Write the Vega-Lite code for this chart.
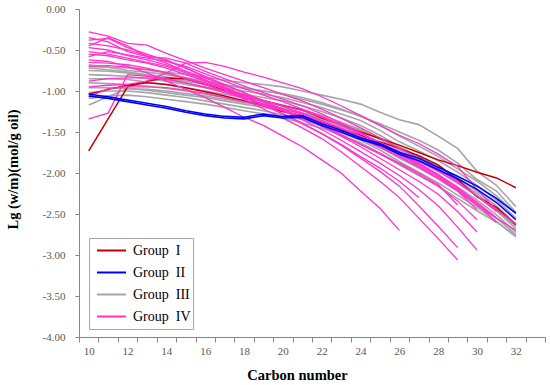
{
"$schema":"https://vega.github.io/schema/vega-lite/v6.json",
"width":466,"height":328,
"autosize":{"type":"none"},
"padding":{"left":79,"top":9,"right":5,"bottom":48},
"background":"white",
"config":{"view":{"stroke":null},"font":"Liberation Serif, Times New Roman, serif"},
"data":{"values":[
{"g":"Group I","s":"R1","c":10,"v":-1.73},{"g":"Group I","s":"R1","c":11,"v":-1.34},{"g":"Group I","s":"R1","c":12,"v":-0.95},{"g":"Group I","s":"R1","c":13,"v":-0.88},{"g":"Group I","s":"R1","c":14,"v":-0.84},{"g":"Group I","s":"R1","c":15,"v":-0.85},{"g":"Group I","s":"R1","c":16,"v":-0.92},{"g":"Group I","s":"R1","c":17,"v":-0.99},{"g":"Group I","s":"R1","c":18,"v":-1.06},{"g":"Group I","s":"R1","c":19,"v":-1.12},{"g":"Group I","s":"R1","c":20,"v":-1.18},{"g":"Group I","s":"R1","c":21,"v":-1.23},{"g":"Group I","s":"R1","c":22,"v":-1.33},{"g":"Group I","s":"R1","c":23,"v":-1.41},{"g":"Group I","s":"R1","c":24,"v":-1.50},{"g":"Group I","s":"R1","c":25,"v":-1.58},{"g":"Group I","s":"R1","c":26,"v":-1.66},{"g":"Group I","s":"R1","c":27,"v":-1.75},{"g":"Group I","s":"R1","c":28,"v":-1.84},{"g":"Group I","s":"R1","c":29,"v":-1.91},{"g":"Group I","s":"R1","c":30,"v":-1.99},{"g":"Group I","s":"R1","c":31,"v":-2.06},{"g":"Group I","s":"R1","c":32,"v":-2.18},
{"g":"Group I","s":"R2","c":10,"v":-1.04},{"g":"Group I","s":"R2","c":11,"v":-0.98},{"g":"Group I","s":"R2","c":12,"v":-0.93},{"g":"Group I","s":"R2","c":13,"v":-0.90},{"g":"Group I","s":"R2","c":14,"v":-0.92},{"g":"Group I","s":"R2","c":15,"v":-0.96},{"g":"Group I","s":"R2","c":16,"v":-1.01},{"g":"Group I","s":"R2","c":17,"v":-1.06},{"g":"Group I","s":"R2","c":18,"v":-1.12},{"g":"Group I","s":"R2","c":19,"v":-1.18},{"g":"Group I","s":"R2","c":20,"v":-1.25},{"g":"Group I","s":"R2","c":21,"v":-1.30},{"g":"Group I","s":"R2","c":22,"v":-1.38},{"g":"Group I","s":"R2","c":23,"v":-1.46},{"g":"Group I","s":"R2","c":24,"v":-1.54},{"g":"Group I","s":"R2","c":25,"v":-1.62},{"g":"Group I","s":"R2","c":26,"v":-1.70},{"g":"Group I","s":"R2","c":27,"v":-1.79},{"g":"Group I","s":"R2","c":28,"v":-1.90},{"g":"Group I","s":"R2","c":29,"v":-2.08},{"g":"Group I","s":"R2","c":30,"v":-2.29},{"g":"Group I","s":"R2","c":31,"v":-2.42},{"g":"Group I","s":"R2","c":32,"v":-2.63},
{"g":"Group II","s":"B1","c":10,"v":-1.04},{"g":"Group II","s":"B1","c":11,"v":-1.07},{"g":"Group II","s":"B1","c":12,"v":-1.11},{"g":"Group II","s":"B1","c":13,"v":-1.15},{"g":"Group II","s":"B1","c":14,"v":-1.19},{"g":"Group II","s":"B1","c":15,"v":-1.24},{"g":"Group II","s":"B1","c":16,"v":-1.28},{"g":"Group II","s":"B1","c":17,"v":-1.31},{"g":"Group II","s":"B1","c":18,"v":-1.32},{"g":"Group II","s":"B1","c":19,"v":-1.28},{"g":"Group II","s":"B1","c":20,"v":-1.31},{"g":"Group II","s":"B1","c":21,"v":-1.30},{"g":"Group II","s":"B1","c":22,"v":-1.40},{"g":"Group II","s":"B1","c":23,"v":-1.48},{"g":"Group II","s":"B1","c":24,"v":-1.57},{"g":"Group II","s":"B1","c":25,"v":-1.64},{"g":"Group II","s":"B1","c":26,"v":-1.75},{"g":"Group II","s":"B1","c":27,"v":-1.82},{"g":"Group II","s":"B1","c":28,"v":-1.93},{"g":"Group II","s":"B1","c":29,"v":-2.04},{"g":"Group II","s":"B1","c":30,"v":-2.16},{"g":"Group II","s":"B1","c":31,"v":-2.31},{"g":"Group II","s":"B1","c":32,"v":-2.49},
{"g":"Group II","s":"B2","c":10,"v":-1.06},{"g":"Group II","s":"B2","c":11,"v":-1.09},{"g":"Group II","s":"B2","c":12,"v":-1.13},{"g":"Group II","s":"B2","c":13,"v":-1.17},{"g":"Group II","s":"B2","c":14,"v":-1.21},{"g":"Group II","s":"B2","c":15,"v":-1.26},{"g":"Group II","s":"B2","c":16,"v":-1.30},{"g":"Group II","s":"B2","c":17,"v":-1.33},{"g":"Group II","s":"B2","c":18,"v":-1.34},{"g":"Group II","s":"B2","c":19,"v":-1.30},{"g":"Group II","s":"B2","c":20,"v":-1.33},{"g":"Group II","s":"B2","c":21,"v":-1.32},{"g":"Group II","s":"B2","c":22,"v":-1.42},{"g":"Group II","s":"B2","c":23,"v":-1.50},{"g":"Group II","s":"B2","c":24,"v":-1.59},{"g":"Group II","s":"B2","c":25,"v":-1.66},{"g":"Group II","s":"B2","c":26,"v":-1.77},{"g":"Group II","s":"B2","c":27,"v":-1.85},{"g":"Group II","s":"B2","c":28,"v":-1.96},{"g":"Group II","s":"B2","c":29,"v":-2.07},{"g":"Group II","s":"B2","c":30,"v":-2.20},{"g":"Group II","s":"B2","c":31,"v":-2.36},{"g":"Group II","s":"B2","c":32,"v":-2.57},
{"g":"Group III","s":"G1","c":10,"v":-0.70},{"g":"Group III","s":"G1","c":11,"v":-0.71},{"g":"Group III","s":"G1","c":12,"v":-0.72},{"g":"Group III","s":"G1","c":13,"v":-0.74},{"g":"Group III","s":"G1","c":14,"v":-0.77},{"g":"Group III","s":"G1","c":15,"v":-0.80},{"g":"Group III","s":"G1","c":16,"v":-0.83},{"g":"Group III","s":"G1","c":17,"v":-0.87},{"g":"Group III","s":"G1","c":18,"v":-0.90},{"g":"Group III","s":"G1","c":19,"v":-0.92},{"g":"Group III","s":"G1","c":20,"v":-0.95},{"g":"Group III","s":"G1","c":21,"v":-1.00},{"g":"Group III","s":"G1","c":22,"v":-1.05},{"g":"Group III","s":"G1","c":23,"v":-1.10},{"g":"Group III","s":"G1","c":24,"v":-1.16},{"g":"Group III","s":"G1","c":25,"v":-1.26},{"g":"Group III","s":"G1","c":26,"v":-1.35},{"g":"Group III","s":"G1","c":27,"v":-1.41},{"g":"Group III","s":"G1","c":28,"v":-1.55},{"g":"Group III","s":"G1","c":29,"v":-1.70},{"g":"Group III","s":"G1","c":30,"v":-1.98},{"g":"Group III","s":"G1","c":31,"v":-2.15},{"g":"Group III","s":"G1","c":32,"v":-2.41},
{"g":"Group III","s":"G2","c":10,"v":-0.72},{"g":"Group III","s":"G2","c":11,"v":-0.74},{"g":"Group III","s":"G2","c":12,"v":-0.77},{"g":"Group III","s":"G2","c":13,"v":-0.80},{"g":"Group III","s":"G2","c":14,"v":-0.83},{"g":"Group III","s":"G2","c":15,"v":-0.87},{"g":"Group III","s":"G2","c":16,"v":-0.90},{"g":"Group III","s":"G2","c":17,"v":-0.93},{"g":"Group III","s":"G2","c":18,"v":-0.97},{"g":"Group III","s":"G2","c":19,"v":-1.00},{"g":"Group III","s":"G2","c":20,"v":-1.03},{"g":"Group III","s":"G2","c":21,"v":-1.08},{"g":"Group III","s":"G2","c":22,"v":-1.14},{"g":"Group III","s":"G2","c":23,"v":-1.22},{"g":"Group III","s":"G2","c":24,"v":-1.31},{"g":"Group III","s":"G2","c":25,"v":-1.40},{"g":"Group III","s":"G2","c":26,"v":-1.50},{"g":"Group III","s":"G2","c":27,"v":-1.60},{"g":"Group III","s":"G2","c":28,"v":-1.72},{"g":"Group III","s":"G2","c":29,"v":-1.88},{"g":"Group III","s":"G2","c":30,"v":-2.08},{"g":"Group III","s":"G2","c":31,"v":-2.22},{"g":"Group III","s":"G2","c":32,"v":-2.48},
{"g":"Group III","s":"G3","c":10,"v":-0.75},{"g":"Group III","s":"G3","c":11,"v":-0.76},{"g":"Group III","s":"G3","c":12,"v":-0.78},{"g":"Group III","s":"G3","c":13,"v":-0.81},{"g":"Group III","s":"G3","c":14,"v":-0.84},{"g":"Group III","s":"G3","c":15,"v":-0.88},{"g":"Group III","s":"G3","c":16,"v":-0.92},{"g":"Group III","s":"G3","c":17,"v":-0.96},{"g":"Group III","s":"G3","c":18,"v":-1.00},{"g":"Group III","s":"G3","c":19,"v":-1.04},{"g":"Group III","s":"G3","c":20,"v":-1.08},{"g":"Group III","s":"G3","c":21,"v":-1.14},{"g":"Group III","s":"G3","c":22,"v":-1.20},{"g":"Group III","s":"G3","c":23,"v":-1.28},{"g":"Group III","s":"G3","c":24,"v":-1.36},{"g":"Group III","s":"G3","c":25,"v":-1.48},{"g":"Group III","s":"G3","c":26,"v":-1.62},{"g":"Group III","s":"G3","c":27,"v":-1.73},{"g":"Group III","s":"G3","c":28,"v":-1.85},{"g":"Group III","s":"G3","c":29,"v":-1.99},{"g":"Group III","s":"G3","c":30,"v":-2.15},{"g":"Group III","s":"G3","c":31,"v":-2.33},{"g":"Group III","s":"G3","c":32,"v":-2.55},
{"g":"Group III","s":"G4","c":10,"v":-0.80},{"g":"Group III","s":"G4","c":11,"v":-0.81},{"g":"Group III","s":"G4","c":12,"v":-0.82},{"g":"Group III","s":"G4","c":13,"v":-0.85},{"g":"Group III","s":"G4","c":14,"v":-0.88},{"g":"Group III","s":"G4","c":15,"v":-0.92},{"g":"Group III","s":"G4","c":16,"v":-0.96},{"g":"Group III","s":"G4","c":17,"v":-1.00},{"g":"Group III","s":"G4","c":18,"v":-1.04},{"g":"Group III","s":"G4","c":19,"v":-1.08},{"g":"Group III","s":"G4","c":20,"v":-1.12},{"g":"Group III","s":"G4","c":21,"v":-1.18},{"g":"Group III","s":"G4","c":22,"v":-1.25},{"g":"Group III","s":"G4","c":23,"v":-1.33},{"g":"Group III","s":"G4","c":24,"v":-1.42},{"g":"Group III","s":"G4","c":25,"v":-1.54},{"g":"Group III","s":"G4","c":26,"v":-1.68},{"g":"Group III","s":"G4","c":27,"v":-1.80},{"g":"Group III","s":"G4","c":28,"v":-1.92},{"g":"Group III","s":"G4","c":29,"v":-2.06},{"g":"Group III","s":"G4","c":30,"v":-2.22},{"g":"Group III","s":"G4","c":31,"v":-2.40},{"g":"Group III","s":"G4","c":32,"v":-2.62},
{"g":"Group III","s":"G5","c":10,"v":-0.85},{"g":"Group III","s":"G5","c":11,"v":-0.85},{"g":"Group III","s":"G5","c":12,"v":-0.86},{"g":"Group III","s":"G5","c":13,"v":-0.89},{"g":"Group III","s":"G5","c":14,"v":-0.92},{"g":"Group III","s":"G5","c":15,"v":-0.96},{"g":"Group III","s":"G5","c":16,"v":-1.00},{"g":"Group III","s":"G5","c":17,"v":-1.04},{"g":"Group III","s":"G5","c":18,"v":-1.08},{"g":"Group III","s":"G5","c":19,"v":-1.12},{"g":"Group III","s":"G5","c":20,"v":-1.17},{"g":"Group III","s":"G5","c":21,"v":-1.23},{"g":"Group III","s":"G5","c":22,"v":-1.30},{"g":"Group III","s":"G5","c":23,"v":-1.38},{"g":"Group III","s":"G5","c":24,"v":-1.47},{"g":"Group III","s":"G5","c":25,"v":-1.59},{"g":"Group III","s":"G5","c":26,"v":-1.72},{"g":"Group III","s":"G5","c":27,"v":-1.84},{"g":"Group III","s":"G5","c":28,"v":-1.97},{"g":"Group III","s":"G5","c":29,"v":-2.12},{"g":"Group III","s":"G5","c":30,"v":-2.28},{"g":"Group III","s":"G5","c":31,"v":-2.46},{"g":"Group III","s":"G5","c":32,"v":-2.68},
{"g":"Group III","s":"G6","c":10,"v":-0.90},{"g":"Group III","s":"G6","c":11,"v":-0.91},{"g":"Group III","s":"G6","c":12,"v":-0.92},{"g":"Group III","s":"G6","c":13,"v":-0.94},{"g":"Group III","s":"G6","c":14,"v":-0.97},{"g":"Group III","s":"G6","c":15,"v":-1.00},{"g":"Group III","s":"G6","c":16,"v":-1.04},{"g":"Group III","s":"G6","c":17,"v":-1.08},{"g":"Group III","s":"G6","c":18,"v":-1.12},{"g":"Group III","s":"G6","c":19,"v":-1.16},{"g":"Group III","s":"G6","c":20,"v":-1.21},{"g":"Group III","s":"G6","c":21,"v":-1.27},{"g":"Group III","s":"G6","c":22,"v":-1.34},{"g":"Group III","s":"G6","c":23,"v":-1.43},{"g":"Group III","s":"G6","c":24,"v":-1.52},{"g":"Group III","s":"G6","c":25,"v":-1.64},{"g":"Group III","s":"G6","c":26,"v":-1.77},{"g":"Group III","s":"G6","c":27,"v":-1.89},{"g":"Group III","s":"G6","c":28,"v":-2.02},{"g":"Group III","s":"G6","c":29,"v":-2.17},{"g":"Group III","s":"G6","c":30,"v":-2.33},{"g":"Group III","s":"G6","c":31,"v":-2.51},{"g":"Group III","s":"G6","c":32,"v":-2.72},
{"g":"Group III","s":"G7","c":10,"v":-0.96},{"g":"Group III","s":"G7","c":11,"v":-0.96},{"g":"Group III","s":"G7","c":12,"v":-0.97},{"g":"Group III","s":"G7","c":13,"v":-0.99},{"g":"Group III","s":"G7","c":14,"v":-1.02},{"g":"Group III","s":"G7","c":15,"v":-1.05},{"g":"Group III","s":"G7","c":16,"v":-1.08},{"g":"Group III","s":"G7","c":17,"v":-1.12},{"g":"Group III","s":"G7","c":18,"v":-1.16},{"g":"Group III","s":"G7","c":19,"v":-1.20},{"g":"Group III","s":"G7","c":20,"v":-1.25},{"g":"Group III","s":"G7","c":21,"v":-1.31},{"g":"Group III","s":"G7","c":22,"v":-1.38},{"g":"Group III","s":"G7","c":23,"v":-1.47},{"g":"Group III","s":"G7","c":24,"v":-1.56},{"g":"Group III","s":"G7","c":25,"v":-1.68},{"g":"Group III","s":"G7","c":26,"v":-1.82},{"g":"Group III","s":"G7","c":27,"v":-1.94},{"g":"Group III","s":"G7","c":28,"v":-2.07},{"g":"Group III","s":"G7","c":29,"v":-2.22},{"g":"Group III","s":"G7","c":30,"v":-2.38},{"g":"Group III","s":"G7","c":31,"v":-2.55},{"g":"Group III","s":"G7","c":32,"v":-2.75},
{"g":"Group III","s":"G8","c":10,"v":-1.02},{"g":"Group III","s":"G8","c":11,"v":-1.00},{"g":"Group III","s":"G8","c":12,"v":-1.00},{"g":"Group III","s":"G8","c":13,"v":-1.02},{"g":"Group III","s":"G8","c":14,"v":-1.05},{"g":"Group III","s":"G8","c":15,"v":-1.08},{"g":"Group III","s":"G8","c":16,"v":-1.12},{"g":"Group III","s":"G8","c":17,"v":-1.16},{"g":"Group III","s":"G8","c":18,"v":-1.20},{"g":"Group III","s":"G8","c":19,"v":-1.24},{"g":"Group III","s":"G8","c":20,"v":-1.29},{"g":"Group III","s":"G8","c":21,"v":-1.35},{"g":"Group III","s":"G8","c":22,"v":-1.42},{"g":"Group III","s":"G8","c":23,"v":-1.51},{"g":"Group III","s":"G8","c":24,"v":-1.60},{"g":"Group III","s":"G8","c":25,"v":-1.72},{"g":"Group III","s":"G8","c":26,"v":-1.86},{"g":"Group III","s":"G8","c":27,"v":-1.99},{"g":"Group III","s":"G8","c":28,"v":-2.12},{"g":"Group III","s":"G8","c":29,"v":-2.27},{"g":"Group III","s":"G8","c":30,"v":-2.42},{"g":"Group III","s":"G8","c":31,"v":-2.59},{"g":"Group III","s":"G8","c":32,"v":-2.78},
{"g":"Group III","s":"G9","c":10,"v":-1.09},{"g":"Group III","s":"G9","c":11,"v":-1.06},{"g":"Group III","s":"G9","c":12,"v":-1.05},{"g":"Group III","s":"G9","c":13,"v":-1.07},{"g":"Group III","s":"G9","c":14,"v":-1.10},{"g":"Group III","s":"G9","c":15,"v":-1.13},{"g":"Group III","s":"G9","c":16,"v":-1.16},{"g":"Group III","s":"G9","c":17,"v":-1.20},{"g":"Group III","s":"G9","c":18,"v":-1.24},{"g":"Group III","s":"G9","c":19,"v":-1.28},{"g":"Group III","s":"G9","c":20,"v":-1.33},{"g":"Group III","s":"G9","c":21,"v":-1.39},{"g":"Group III","s":"G9","c":22,"v":-1.45},{"g":"Group III","s":"G9","c":23,"v":-1.54},{"g":"Group III","s":"G9","c":24,"v":-1.63},{"g":"Group III","s":"G9","c":25,"v":-1.76},{"g":"Group III","s":"G9","c":26,"v":-1.90},{"g":"Group III","s":"G9","c":27,"v":-2.03},{"g":"Group III","s":"G9","c":28,"v":-2.16},{"g":"Group III","s":"G9","c":29,"v":-2.31},{"g":"Group III","s":"G9","c":30,"v":-2.46},{"g":"Group III","s":"G9","c":31,"v":-2.60},{"g":"Group III","s":"G9","c":32,"v":-2.76},
{"g":"Group III","s":"G10","c":10,"v":-1.17},{"g":"Group III","s":"G10","c":11,"v":-1.07},{"g":"Group III","s":"G10","c":12,"v":-0.97},{"g":"Group III","s":"G10","c":13,"v":-0.98},{"g":"Group III","s":"G10","c":14,"v":-1.00},{"g":"Group III","s":"G10","c":15,"v":-1.03},{"g":"Group III","s":"G10","c":16,"v":-1.06},{"g":"Group III","s":"G10","c":17,"v":-1.10},{"g":"Group III","s":"G10","c":18,"v":-1.14},{"g":"Group III","s":"G10","c":19,"v":-1.18},{"g":"Group III","s":"G10","c":20,"v":-1.22},{"g":"Group III","s":"G10","c":21,"v":-1.27},{"g":"Group III","s":"G10","c":22,"v":-1.32},{"g":"Group III","s":"G10","c":23,"v":-1.40},{"g":"Group III","s":"G10","c":24,"v":-1.48},{"g":"Group III","s":"G10","c":25,"v":-1.58},{"g":"Group III","s":"G10","c":26,"v":-1.70},{"g":"Group III","s":"G10","c":27,"v":-1.82},{"g":"Group III","s":"G10","c":28,"v":-1.95},{"g":"Group III","s":"G10","c":29,"v":-2.09},{"g":"Group III","s":"G10","c":30,"v":-2.25},{"g":"Group III","s":"G10","c":31,"v":-2.44},{"g":"Group III","s":"G10","c":32,"v":-2.65},
{"g":"Group III","s":"G11","c":10,"v":-0.68},{"g":"Group III","s":"G11","c":11,"v":-0.71},{"g":"Group III","s":"G11","c":12,"v":-0.75},{"g":"Group III","s":"G11","c":13,"v":-0.77},{"g":"Group III","s":"G11","c":14,"v":-0.80},{"g":"Group III","s":"G11","c":15,"v":-0.84},{"g":"Group III","s":"G11","c":16,"v":-0.88},{"g":"Group III","s":"G11","c":17,"v":-0.92},{"g":"Group III","s":"G11","c":18,"v":-0.96},{"g":"Group III","s":"G11","c":19,"v":-1.00},{"g":"Group III","s":"G11","c":20,"v":-1.04},{"g":"Group III","s":"G11","c":21,"v":-1.10},{"g":"Group III","s":"G11","c":22,"v":-1.16},{"g":"Group III","s":"G11","c":23,"v":-1.23},{"g":"Group III","s":"G11","c":24,"v":-1.30},{"g":"Group III","s":"G11","c":25,"v":-1.42},{"g":"Group III","s":"G11","c":26,"v":-1.55},{"g":"Group III","s":"G11","c":27,"v":-1.67},{"g":"Group III","s":"G11","c":28,"v":-1.80},{"g":"Group III","s":"G11","c":29,"v":-1.95},{"g":"Group III","s":"G11","c":30,"v":-2.10},{"g":"Group III","s":"G11","c":31,"v":-2.28},{"g":"Group III","s":"G11","c":32,"v":-2.50},
{"g":"Group IV","s":"L1","c":10,"v":-0.62},{"g":"Group IV","s":"L1","c":11,"v":-0.64},{"g":"Group IV","s":"L1","c":12,"v":-0.70},{"g":"Group IV","s":"L1","c":13,"v":-0.78},{"g":"Group IV","s":"L1","c":14,"v":-0.88},{"g":"Group IV","s":"L1","c":15,"v":-0.98},{"g":"Group IV","s":"L1","c":16,"v":-1.08},{"g":"Group IV","s":"L1","c":17,"v":-1.20},{"g":"Group IV","s":"L1","c":18,"v":-1.32},{"g":"Group IV","s":"L1","c":19,"v":-1.42},{"g":"Group IV","s":"L1","c":20,"v":-1.55},{"g":"Group IV","s":"L1","c":21,"v":-1.68},{"g":"Group IV","s":"L1","c":22,"v":-1.84},{"g":"Group IV","s":"L1","c":23,"v":-2.00},{"g":"Group IV","s":"L1","c":24,"v":-2.22},{"g":"Group IV","s":"L1","c":25,"v":-2.43},{"g":"Group IV","s":"L1","c":26,"v":-2.70},
{"g":"Group IV","s":"L2","c":10,"v":-0.35},{"g":"Group IV","s":"L2","c":11,"v":-0.40},{"g":"Group IV","s":"L2","c":12,"v":-0.52},{"g":"Group IV","s":"L2","c":13,"v":-0.58},{"g":"Group IV","s":"L2","c":14,"v":-0.66},{"g":"Group IV","s":"L2","c":15,"v":-0.76},{"g":"Group IV","s":"L2","c":16,"v":-0.86},{"g":"Group IV","s":"L2","c":17,"v":-0.98},{"g":"Group IV","s":"L2","c":18,"v":-1.10},{"g":"Group IV","s":"L2","c":19,"v":-1.22},{"g":"Group IV","s":"L2","c":20,"v":-1.33},{"g":"Group IV","s":"L2","c":21,"v":-1.45},{"g":"Group IV","s":"L2","c":22,"v":-1.58},{"g":"Group IV","s":"L2","c":23,"v":-1.74},{"g":"Group IV","s":"L2","c":24,"v":-1.92},{"g":"Group IV","s":"L2","c":25,"v":-2.10},{"g":"Group IV","s":"L2","c":26,"v":-2.30},{"g":"Group IV","s":"L2","c":27,"v":-2.55},{"g":"Group IV","s":"L2","c":28,"v":-2.80},{"g":"Group IV","s":"L2","c":29,"v":-3.06},
{"g":"Group IV","s":"L3","c":10,"v":-0.42},{"g":"Group IV","s":"L3","c":11,"v":-0.45},{"g":"Group IV","s":"L3","c":12,"v":-0.50},{"g":"Group IV","s":"L3","c":13,"v":-0.57},{"g":"Group IV","s":"L3","c":14,"v":-0.62},{"g":"Group IV","s":"L3","c":15,"v":-0.72},{"g":"Group IV","s":"L3","c":16,"v":-0.83},{"g":"Group IV","s":"L3","c":17,"v":-0.95},{"g":"Group IV","s":"L3","c":18,"v":-1.06},{"g":"Group IV","s":"L3","c":19,"v":-1.17},{"g":"Group IV","s":"L3","c":20,"v":-1.28},{"g":"Group IV","s":"L3","c":21,"v":-1.39},{"g":"Group IV","s":"L3","c":22,"v":-1.52},{"g":"Group IV","s":"L3","c":23,"v":-1.66},{"g":"Group IV","s":"L3","c":24,"v":-1.82},{"g":"Group IV","s":"L3","c":25,"v":-1.98},{"g":"Group IV","s":"L3","c":26,"v":-2.16},{"g":"Group IV","s":"L3","c":27,"v":-2.40},{"g":"Group IV","s":"L3","c":28,"v":-2.65},{"g":"Group IV","s":"L3","c":29,"v":-2.91},
{"g":"Group IV","s":"L4","c":10,"v":-0.38},{"g":"Group IV","s":"L4","c":11,"v":-0.36},{"g":"Group IV","s":"L4","c":12,"v":-0.47},{"g":"Group IV","s":"L4","c":13,"v":-0.55},{"g":"Group IV","s":"L4","c":14,"v":-0.63},{"g":"Group IV","s":"L4","c":15,"v":-0.72},{"g":"Group IV","s":"L4","c":16,"v":-0.82},{"g":"Group IV","s":"L4","c":17,"v":-0.92},{"g":"Group IV","s":"L4","c":18,"v":-1.02},{"g":"Group IV","s":"L4","c":19,"v":-1.13},{"g":"Group IV","s":"L4","c":20,"v":-1.24},{"g":"Group IV","s":"L4","c":21,"v":-1.35},{"g":"Group IV","s":"L4","c":22,"v":-1.47},{"g":"Group IV","s":"L4","c":23,"v":-1.60},{"g":"Group IV","s":"L4","c":24,"v":-1.74},{"g":"Group IV","s":"L4","c":25,"v":-1.88},{"g":"Group IV","s":"L4","c":26,"v":-2.03},{"g":"Group IV","s":"L4","c":27,"v":-2.20},{"g":"Group IV","s":"L4","c":28,"v":-2.40},{"g":"Group IV","s":"L4","c":29,"v":-2.66},{"g":"Group IV","s":"L4","c":30,"v":-2.94},
{"g":"Group IV","s":"L5","c":10,"v":-0.52},{"g":"Group IV","s":"L5","c":11,"v":-0.55},{"g":"Group IV","s":"L5","c":12,"v":-0.60},{"g":"Group IV","s":"L5","c":13,"v":-0.65},{"g":"Group IV","s":"L5","c":14,"v":-0.70},{"g":"Group IV","s":"L5","c":15,"v":-0.78},{"g":"Group IV","s":"L5","c":16,"v":-0.87},{"g":"Group IV","s":"L5","c":17,"v":-0.97},{"g":"Group IV","s":"L5","c":18,"v":-1.07},{"g":"Group IV","s":"L5","c":19,"v":-1.17},{"g":"Group IV","s":"L5","c":20,"v":-1.28},{"g":"Group IV","s":"L5","c":21,"v":-1.40},{"g":"Group IV","s":"L5","c":22,"v":-1.52},{"g":"Group IV","s":"L5","c":23,"v":-1.65},{"g":"Group IV","s":"L5","c":24,"v":-1.80},{"g":"Group IV","s":"L5","c":25,"v":-1.94},{"g":"Group IV","s":"L5","c":26,"v":-2.10},{"g":"Group IV","s":"L5","c":27,"v":-2.30},
{"g":"Group IV","s":"L6","c":10,"v":-0.47},{"g":"Group IV","s":"L6","c":11,"v":-0.50},{"g":"Group IV","s":"L6","c":12,"v":-0.57},{"g":"Group IV","s":"L6","c":13,"v":-0.62},{"g":"Group IV","s":"L6","c":14,"v":-0.68},{"g":"Group IV","s":"L6","c":15,"v":-0.76},{"g":"Group IV","s":"L6","c":16,"v":-0.84},{"g":"Group IV","s":"L6","c":17,"v":-0.93},{"g":"Group IV","s":"L6","c":18,"v":-1.02},{"g":"Group IV","s":"L6","c":19,"v":-1.12},{"g":"Group IV","s":"L6","c":20,"v":-1.22},{"g":"Group IV","s":"L6","c":21,"v":-1.32},{"g":"Group IV","s":"L6","c":22,"v":-1.43},{"g":"Group IV","s":"L6","c":23,"v":-1.55},{"g":"Group IV","s":"L6","c":24,"v":-1.68},{"g":"Group IV","s":"L6","c":25,"v":-1.82},{"g":"Group IV","s":"L6","c":26,"v":-1.96},{"g":"Group IV","s":"L6","c":27,"v":-2.10},{"g":"Group IV","s":"L6","c":28,"v":-2.26},{"g":"Group IV","s":"L6","c":29,"v":-2.47},{"g":"Group IV","s":"L6","c":30,"v":-2.72},
{"g":"Group IV","s":"L7","c":10,"v":-0.55},{"g":"Group IV","s":"L7","c":11,"v":-0.57},{"g":"Group IV","s":"L7","c":12,"v":-0.62},{"g":"Group IV","s":"L7","c":13,"v":-0.66},{"g":"Group IV","s":"L7","c":14,"v":-0.72},{"g":"Group IV","s":"L7","c":15,"v":-0.80},{"g":"Group IV","s":"L7","c":16,"v":-0.88},{"g":"Group IV","s":"L7","c":17,"v":-0.96},{"g":"Group IV","s":"L7","c":18,"v":-1.05},{"g":"Group IV","s":"L7","c":19,"v":-1.14},{"g":"Group IV","s":"L7","c":20,"v":-1.23},{"g":"Group IV","s":"L7","c":21,"v":-1.32},{"g":"Group IV","s":"L7","c":22,"v":-1.42},{"g":"Group IV","s":"L7","c":23,"v":-1.53},{"g":"Group IV","s":"L7","c":24,"v":-1.65},{"g":"Group IV","s":"L7","c":25,"v":-1.77},{"g":"Group IV","s":"L7","c":26,"v":-1.89},{"g":"Group IV","s":"L7","c":27,"v":-2.02},{"g":"Group IV","s":"L7","c":28,"v":-2.16},{"g":"Group IV","s":"L7","c":29,"v":-2.34},{"g":"Group IV","s":"L7","c":30,"v":-2.57},
{"g":"Group IV","s":"L8","c":10,"v":-0.65},{"g":"Group IV","s":"L8","c":11,"v":-0.66},{"g":"Group IV","s":"L8","c":12,"v":-0.68},{"g":"Group IV","s":"L8","c":13,"v":-0.72},{"g":"Group IV","s":"L8","c":14,"v":-0.78},{"g":"Group IV","s":"L8","c":15,"v":-0.85},{"g":"Group IV","s":"L8","c":16,"v":-0.92},{"g":"Group IV","s":"L8","c":17,"v":-1.00},{"g":"Group IV","s":"L8","c":18,"v":-1.08},{"g":"Group IV","s":"L8","c":19,"v":-1.16},{"g":"Group IV","s":"L8","c":20,"v":-1.24},{"g":"Group IV","s":"L8","c":21,"v":-1.33},{"g":"Group IV","s":"L8","c":22,"v":-1.43},{"g":"Group IV","s":"L8","c":23,"v":-1.54},{"g":"Group IV","s":"L8","c":24,"v":-1.65},{"g":"Group IV","s":"L8","c":25,"v":-1.76},{"g":"Group IV","s":"L8","c":26,"v":-1.88},{"g":"Group IV","s":"L8","c":27,"v":-2.00},{"g":"Group IV","s":"L8","c":28,"v":-2.14},{"g":"Group IV","s":"L8","c":29,"v":-2.39},
{"g":"Group IV","s":"L9","c":10,"v":-0.70},{"g":"Group IV","s":"L9","c":11,"v":-0.69},{"g":"Group IV","s":"L9","c":12,"v":-0.71},{"g":"Group IV","s":"L9","c":13,"v":-0.74},{"g":"Group IV","s":"L9","c":14,"v":-0.78},{"g":"Group IV","s":"L9","c":15,"v":-0.84},{"g":"Group IV","s":"L9","c":16,"v":-0.90},{"g":"Group IV","s":"L9","c":17,"v":-0.97},{"g":"Group IV","s":"L9","c":18,"v":-1.04},{"g":"Group IV","s":"L9","c":19,"v":-1.11},{"g":"Group IV","s":"L9","c":20,"v":-1.19},{"g":"Group IV","s":"L9","c":21,"v":-1.27},{"g":"Group IV","s":"L9","c":22,"v":-1.36},{"g":"Group IV","s":"L9","c":23,"v":-1.46},{"g":"Group IV","s":"L9","c":24,"v":-1.57},{"g":"Group IV","s":"L9","c":25,"v":-1.68},{"g":"Group IV","s":"L9","c":26,"v":-1.80},{"g":"Group IV","s":"L9","c":27,"v":-1.92},{"g":"Group IV","s":"L9","c":28,"v":-2.05},{"g":"Group IV","s":"L9","c":29,"v":-2.20},{"g":"Group IV","s":"L9","c":30,"v":-2.38},{"g":"Group IV","s":"L9","c":31,"v":-2.60},
{"g":"Group IV","s":"U1","c":10,"v":-0.28},{"g":"Group IV","s":"U1","c":11,"v":-0.33},{"g":"Group IV","s":"U1","c":12,"v":-0.42},{"g":"Group IV","s":"U1","c":13,"v":-0.44},{"g":"Group IV","s":"U1","c":14,"v":-0.54},{"g":"Group IV","s":"U1","c":15,"v":-0.63},{"g":"Group IV","s":"U1","c":16,"v":-0.72},{"g":"Group IV","s":"U1","c":17,"v":-0.80},{"g":"Group IV","s":"U1","c":18,"v":-0.88},{"g":"Group IV","s":"U1","c":19,"v":-0.96},{"g":"Group IV","s":"U1","c":20,"v":-1.04},{"g":"Group IV","s":"U1","c":21,"v":-1.12},{"g":"Group IV","s":"U1","c":22,"v":-1.22},{"g":"Group IV","s":"U1","c":23,"v":-1.33},{"g":"Group IV","s":"U1","c":24,"v":-1.45},{"g":"Group IV","s":"U1","c":25,"v":-1.57},{"g":"Group IV","s":"U1","c":26,"v":-1.70},{"g":"Group IV","s":"U1","c":27,"v":-1.82},{"g":"Group IV","s":"U1","c":28,"v":-1.95},{"g":"Group IV","s":"U1","c":29,"v":-2.10},{"g":"Group IV","s":"U1","c":30,"v":-2.28},{"g":"Group IV","s":"U1","c":31,"v":-2.47},
{"g":"Group IV","s":"U2","c":10,"v":-0.88},{"g":"Group IV","s":"U2","c":11,"v":-0.85},{"g":"Group IV","s":"U2","c":12,"v":-0.84},{"g":"Group IV","s":"U2","c":13,"v":-0.84},{"g":"Group IV","s":"U2","c":14,"v":-0.86},{"g":"Group IV","s":"U2","c":15,"v":-0.90},{"g":"Group IV","s":"U2","c":16,"v":-0.95},{"g":"Group IV","s":"U2","c":17,"v":-1.00},{"g":"Group IV","s":"U2","c":18,"v":-1.06},{"g":"Group IV","s":"U2","c":19,"v":-1.12},{"g":"Group IV","s":"U2","c":20,"v":-1.18},{"g":"Group IV","s":"U2","c":21,"v":-1.24},{"g":"Group IV","s":"U2","c":22,"v":-1.32},{"g":"Group IV","s":"U2","c":23,"v":-1.42},{"g":"Group IV","s":"U2","c":24,"v":-1.52},{"g":"Group IV","s":"U2","c":25,"v":-1.63},{"g":"Group IV","s":"U2","c":26,"v":-1.74},{"g":"Group IV","s":"U2","c":27,"v":-1.86},{"g":"Group IV","s":"U2","c":28,"v":-1.98},{"g":"Group IV","s":"U2","c":29,"v":-2.12},{"g":"Group IV","s":"U2","c":30,"v":-2.28},{"g":"Group IV","s":"U2","c":31,"v":-2.45},{"g":"Group IV","s":"U2","c":32,"v":-2.62},
{"g":"Group IV","s":"U3","c":10,"v":-1.07},{"g":"Group IV","s":"U3","c":11,"v":-0.97},{"g":"Group IV","s":"U3","c":12,"v":-0.95},{"g":"Group IV","s":"U3","c":13,"v":-0.95},{"g":"Group IV","s":"U3","c":14,"v":-0.96},{"g":"Group IV","s":"U3","c":15,"v":-0.99},{"g":"Group IV","s":"U3","c":16,"v":-1.03},{"g":"Group IV","s":"U3","c":17,"v":-1.08},{"g":"Group IV","s":"U3","c":18,"v":-1.13},{"g":"Group IV","s":"U3","c":19,"v":-1.18},{"g":"Group IV","s":"U3","c":20,"v":-1.24},{"g":"Group IV","s":"U3","c":21,"v":-1.30},{"g":"Group IV","s":"U3","c":22,"v":-1.38},{"g":"Group IV","s":"U3","c":23,"v":-1.48},{"g":"Group IV","s":"U3","c":24,"v":-1.58},{"g":"Group IV","s":"U3","c":25,"v":-1.69},{"g":"Group IV","s":"U3","c":26,"v":-1.80},{"g":"Group IV","s":"U3","c":27,"v":-1.93},{"g":"Group IV","s":"U3","c":28,"v":-2.07},{"g":"Group IV","s":"U3","c":29,"v":-2.22},{"g":"Group IV","s":"U3","c":30,"v":-2.40},{"g":"Group IV","s":"U3","c":31,"v":-2.55},{"g":"Group IV","s":"U3","c":32,"v":-2.70},
{"g":"Group IV","s":"U4","c":10,"v":-0.58},{"g":"Group IV","s":"U4","c":11,"v":-0.52},{"g":"Group IV","s":"U4","c":12,"v":-0.56},{"g":"Group IV","s":"U4","c":13,"v":-0.60},{"g":"Group IV","s":"U4","c":14,"v":-0.64},{"g":"Group IV","s":"U4","c":15,"v":-0.70},{"g":"Group IV","s":"U4","c":16,"v":-0.79},{"g":"Group IV","s":"U4","c":17,"v":-0.88},{"g":"Group IV","s":"U4","c":18,"v":-0.97},{"g":"Group IV","s":"U4","c":19,"v":-1.05},{"g":"Group IV","s":"U4","c":20,"v":-1.13},{"g":"Group IV","s":"U4","c":21,"v":-1.22},{"g":"Group IV","s":"U4","c":22,"v":-1.31},{"g":"Group IV","s":"U4","c":23,"v":-1.41},{"g":"Group IV","s":"U4","c":24,"v":-1.52},{"g":"Group IV","s":"U4","c":25,"v":-1.64},{"g":"Group IV","s":"U4","c":26,"v":-1.76},{"g":"Group IV","s":"U4","c":27,"v":-1.89},{"g":"Group IV","s":"U4","c":28,"v":-2.03},{"g":"Group IV","s":"U4","c":29,"v":-2.22},{"g":"Group IV","s":"U4","c":30,"v":-2.45},
{"g":"Group IV","s":"U5","c":10,"v":-0.45},{"g":"Group IV","s":"U5","c":11,"v":-0.35},{"g":"Group IV","s":"U5","c":12,"v":-0.45},{"g":"Group IV","s":"U5","c":13,"v":-0.58},{"g":"Group IV","s":"U5","c":14,"v":-0.60},{"g":"Group IV","s":"U5","c":15,"v":-0.66},{"g":"Group IV","s":"U5","c":16,"v":-0.76},{"g":"Group IV","s":"U5","c":17,"v":-0.85},{"g":"Group IV","s":"U5","c":18,"v":-0.94},{"g":"Group IV","s":"U5","c":19,"v":-1.02},{"g":"Group IV","s":"U5","c":20,"v":-1.10},{"g":"Group IV","s":"U5","c":21,"v":-1.18},{"g":"Group IV","s":"U5","c":22,"v":-1.28},{"g":"Group IV","s":"U5","c":23,"v":-1.39},{"g":"Group IV","s":"U5","c":24,"v":-1.51},{"g":"Group IV","s":"U5","c":25,"v":-1.63},{"g":"Group IV","s":"U5","c":26,"v":-1.75},{"g":"Group IV","s":"U5","c":27,"v":-1.88},{"g":"Group IV","s":"U5","c":28,"v":-2.02},{"g":"Group IV","s":"U5","c":29,"v":-2.18},{"g":"Group IV","s":"U5","c":30,"v":-2.36},{"g":"Group IV","s":"U5","c":31,"v":-2.55},
{"g":"Group IV","s":"T1","c":10,"v":-0.95},{"g":"Group IV","s":"T1","c":11,"v":-0.93},{"g":"Group IV","s":"T1","c":12,"v":-0.92},{"g":"Group IV","s":"T1","c":13,"v":-0.88},{"g":"Group IV","s":"T1","c":14,"v":-0.78},{"g":"Group IV","s":"T1","c":15,"v":-0.66},{"g":"Group IV","s":"T1","c":16,"v":-0.65},{"g":"Group IV","s":"T1","c":17,"v":-0.70},{"g":"Group IV","s":"T1","c":18,"v":-0.77},{"g":"Group IV","s":"T1","c":19,"v":-0.83},{"g":"Group IV","s":"T1","c":20,"v":-0.90},{"g":"Group IV","s":"T1","c":21,"v":-0.97},{"g":"Group IV","s":"T1","c":22,"v":-1.07},{"g":"Group IV","s":"T1","c":23,"v":-1.18},{"g":"Group IV","s":"T1","c":24,"v":-1.30},{"g":"Group IV","s":"T1","c":25,"v":-1.42},{"g":"Group IV","s":"T1","c":26,"v":-1.54},{"g":"Group IV","s":"T1","c":27,"v":-1.64},{"g":"Group IV","s":"T1","c":28,"v":-1.77},{"g":"Group IV","s":"T1","c":29,"v":-1.92},{"g":"Group IV","s":"T1","c":30,"v":-2.20},{"g":"Group IV","s":"T1","c":31,"v":-2.45},
{"g":"Group IV","s":"J1","c":10,"v":-1.34},{"g":"Group IV","s":"J1","c":11,"v":-1.27},{"g":"Group IV","s":"J1","c":12,"v":-0.80},{"g":"Group IV","s":"J1","c":13,"v":-0.82},{"g":"Group IV","s":"J1","c":14,"v":-0.85},{"g":"Group IV","s":"J1","c":15,"v":-0.90},{"g":"Group IV","s":"J1","c":16,"v":-0.96},{"g":"Group IV","s":"J1","c":17,"v":-1.02},{"g":"Group IV","s":"J1","c":18,"v":-1.09},{"g":"Group IV","s":"J1","c":19,"v":-1.16},{"g":"Group IV","s":"J1","c":20,"v":-1.22},{"g":"Group IV","s":"J1","c":21,"v":-1.28},{"g":"Group IV","s":"J1","c":22,"v":-1.36},{"g":"Group IV","s":"J1","c":23,"v":-1.45},{"g":"Group IV","s":"J1","c":24,"v":-1.55},{"g":"Group IV","s":"J1","c":25,"v":-1.66},{"g":"Group IV","s":"J1","c":26,"v":-1.78},{"g":"Group IV","s":"J1","c":27,"v":-1.90},{"g":"Group IV","s":"J1","c":28,"v":-2.03},{"g":"Group IV","s":"J1","c":29,"v":-2.18},{"g":"Group IV","s":"J1","c":30,"v":-2.36},{"g":"Group IV","s":"J1","c":31,"v":-2.55}
]},
"encoding":{
"x":{"field":"c","type":"quantitative","scale":{"domain":[9.5,33.5],"nice":false,"zero":false},
"axis":{"title":"Carbon number","values":[9.5,10.5,11.5,12.5,13.5,14.5,15.5,16.5,17.5,18.5,19.5,20.5,21.5,22.5,23.5,24.5,25.5,26.5,27.5,28.5,29.5,30.5,31.5,32.5,33.5],
"labelExpr":"(datum.value < 33 && (datum.value - 9.5) % 2 == 0) ? format(datum.value + 0.5, 'd') : ''",
"labelOffset":9.7,"labelOverlap":false,"labelFlush":false,"grid":false,
"domainColor":"#868686","tickColor":"#868686","tickSize":5,"labelColor":"#595959","labelFont":"Liberation Serif, Times New Roman, serif","labelFontSize":11,"labelPadding":3,
"titleFont":"Liberation Serif, Times New Roman, serif","titleFontSize":14.5,"titleFontWeight":"bold","titleColor":"#000000","titleX":218,"titleY":38,"titleBaseline":"middle","titleAlign":"center"}},
"y":{"field":"v","type":"quantitative","scale":{"domain":[-4,0],"nice":false,"zero":false},
"axis":{"title":"Lg (w/m)(mol/g oil)","values":[-4,-3.5,-3,-2.5,-2,-1.5,-1,-0.5,0],
"labelExpr":"replace(format(datum.value,'.2f'),'\u2212','-')","labelOverlap":false,"labelFlush":false,"grid":false,
"domainColor":"#868686","tickColor":"#868686","tickSize":4,"labelColor":"#595959","labelFont":"Liberation Serif, Times New Roman, serif","labelFontSize":11,"labelPadding":10,
"titleFont":"Liberation Serif, Times New Roman, serif","titleFontSize":14.5,"titleFontWeight":"bold","titleColor":"#000000","titleX":-66,"titleY":160,"titleAngle":270,"titleBaseline":"middle","titleAlign":"center"}},
"color":{"field":"g","type":"nominal","scale":{"domain":["Group I","Group II","Group III","Group IV"],"range":["#C00000","#0000FF","#A6A6A6","#FF33CC"]},
"legend":{"orient":"none","legendX":10,"legendY":229,"title":null,"symbolType":"stroke","symbolSize":841,"symbolStrokeWidth":2,"clipHeight":21,"symbolOffset":5,
"labelFont":"Liberation Serif, Times New Roman, serif","labelFontSize":14,"labelColor":"#000000","strokeColor":"#A6A6A6","fillColor":"#FFFFFF","padding":2,"rowPadding":1,"labelOffset":6,
"labelExpr":"replace(datum.label,' ','\u00a0\u00a0')"}},
"detail":{"field":"s"}
},
"layer":[
{"transform":[{"filter":"datum.g == 'Group III'"}],"mark":{"type":"line","strokeWidth":1.6}},
{"transform":[{"filter":"datum.g == 'Group I'"}],"mark":{"type":"line","strokeWidth":1.5}},
{"transform":[{"filter":"datum.g == 'Group IV'"}],"mark":{"type":"line","strokeWidth":1.3}},
{"transform":[{"filter":"datum.g == 'Group II'"}],"mark":{"type":"line","strokeWidth":1.6}}
]
}
